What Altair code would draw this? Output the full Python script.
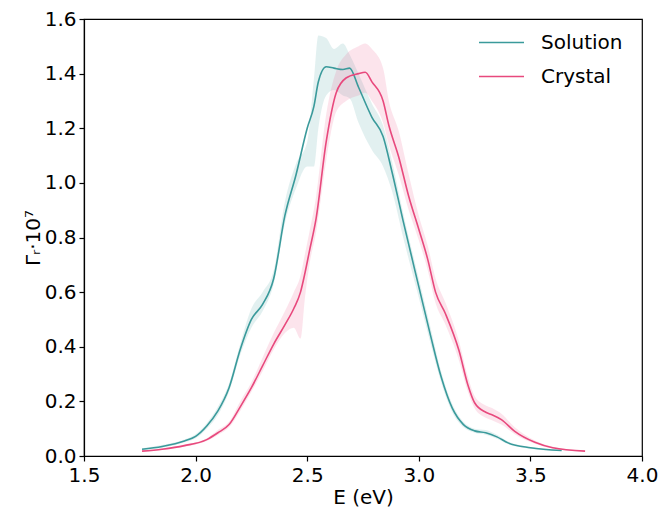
import altair as alt
import pandas as pd

# Solution (teal)
sol_E = [1.76, 1.85, 1.95, 2.00, 2.05, 2.10, 2.15, 2.20, 2.25, 2.30, 2.35, 2.40, 2.45, 2.50, 2.53,
         2.55, 2.585, 2.62, 2.66, 2.69, 2.73, 2.79, 2.84, 2.88, 2.93, 3.00, 3.05, 3.10, 3.15,
         3.20, 3.25, 3.30, 3.35, 3.40, 3.50, 3.64]
sol_mean = [0.025, 0.035, 0.055, 0.072, 0.11, 0.165, 0.25, 0.39, 0.50, 0.555, 0.65, 0.88, 1.03, 1.20, 1.28,
            1.37, 1.425, 1.42, 1.415, 1.42, 1.35, 1.24, 1.17, 1.04, 0.86, 0.62, 0.45, 0.29, 0.175,
            0.115, 0.092, 0.085, 0.07, 0.048, 0.03, 0.02]
sol_lo = [0.022, 0.03, 0.05, 0.065, 0.10, 0.15, 0.235, 0.37, 0.47, 0.53, 0.63, 0.85, 0.98, 1.06, 1.06,
          1.20, 1.32, 1.34, 1.32, 1.31, 1.22, 1.12, 1.06, 0.97, 0.80, 0.58, 0.42, 0.27, 0.16,
          0.105, 0.085, 0.078, 0.063, 0.043, 0.027, 0.018]
sol_hi = [0.028, 0.04, 0.06, 0.08, 0.12, 0.18, 0.265, 0.41, 0.54, 0.60, 0.68, 0.93, 1.07, 1.15, 1.38,
          1.54, 1.53, 1.49, 1.51, 1.47, 1.40, 1.29, 1.21, 1.08, 0.89, 0.65, 0.48, 0.31, 0.19,
          0.125, 0.10, 0.095, 0.078, 0.053, 0.033, 0.022]

# Crystal (pink)
cry_E = [1.76, 1.85, 1.95, 2.05, 2.10, 2.15, 2.20, 2.25, 2.30, 2.35, 2.40, 2.44, 2.47, 2.49, 2.51,
         2.54, 2.585, 2.63, 2.674, 2.73, 2.76, 2.79, 2.84, 2.866, 2.91, 2.955, 3.00, 3.04, 3.075,
         3.12, 3.18, 3.22, 3.25, 3.30, 3.33, 3.37, 3.43, 3.52, 3.60, 3.745]
cry_mean = [0.018, 0.025, 0.038, 0.06, 0.085, 0.115, 0.18, 0.25, 0.33, 0.41, 0.48, 0.54, 0.60, 0.67, 0.75,
            0.87, 1.15, 1.33, 1.384, 1.40, 1.405, 1.37, 1.30, 1.21, 1.095, 0.95, 0.83, 0.72, 0.60,
            0.52, 0.386, 0.26, 0.195, 0.16, 0.15, 0.133, 0.09, 0.05, 0.03, 0.018]
cry_lo = [0.016, 0.022, 0.034, 0.055, 0.077, 0.105, 0.165, 0.235, 0.31, 0.39, 0.45, 0.47, 0.43, 0.58, 0.70,
          0.82, 1.08, 1.26, 1.30, 1.32, 1.33, 1.30, 1.22, 1.14, 1.03, 0.90, 0.79, 0.68, 0.56,
          0.48, 0.35, 0.235, 0.175, 0.14, 0.13, 0.115, 0.08, 0.045, 0.027, 0.016]
cry_hi = [0.02, 0.028, 0.042, 0.065, 0.095, 0.125, 0.20, 0.27, 0.36, 0.45, 0.53, 0.60, 0.66, 0.74, 0.82,
          0.95, 1.25, 1.41, 1.47, 1.50, 1.51, 1.49, 1.42, 1.30, 1.19, 1.03, 0.88, 0.77, 0.65,
          0.56, 0.42, 0.29, 0.22, 0.185, 0.175, 0.155, 0.105, 0.057, 0.034, 0.02]

series = ["Solution", "Crystal"]
colors = ["#3a9a9b", "#e8497d"]

rows = []
for name, E, m, lo, hi in [("Solution", sol_E, sol_mean, sol_lo, sol_hi),
                           ("Crystal", cry_E, cry_mean, cry_lo, cry_hi)]:
    for e, a, b, c in zip(E, m, lo, hi):
        rows.append({"series": name, "E": e, "mean": a, "lo": b, "hi": c})
df = pd.DataFrame(rows)

font = "DejaVu Sans"
xs = alt.X("E:Q", scale=alt.Scale(domain=[1.5, 4.0], nice=False),
           axis=alt.Axis(title="E (eV)", values=[1.5, 2.0, 2.5, 3.0, 3.5, 4.0], format=".1f",
                         labelFlush=False, labelOverlap=False))
ys_axis = alt.Axis(title="Γᵣ·10⁷", values=[0, 0.2, 0.4, 0.6, 0.8, 1.0, 1.2, 1.4, 1.6], format=".1f",
                   labelFlush=False, labelOverlap=False)
color_scale = alt.Scale(domain=series, range=colors)

band = alt.Chart(df).mark_area(opacity=0.15, interpolate="monotone").encode(
    x=xs,
    y=alt.Y("lo:Q", scale=alt.Scale(domain=[0, 1.6], nice=False), axis=ys_axis),
    y2="hi:Q",
    color=alt.Color("series:N", scale=color_scale, legend=None),
    detail="series:N",
)

line = alt.Chart(df).mark_line(strokeWidth=1.6, interpolate="monotone").encode(
    x=xs,
    y=alt.Y("mean:Q", scale=alt.Scale(domain=[0, 1.6], nice=False), axis=ys_axis),
    color=alt.Color("series:N", scale=color_scale, sort=series,
                    legend=alt.Legend(title=None, orient="none", legendX=394, legendY=0,
                                      symbolType="stroke", symbolSize=2025, symbolStrokeWidth=1.6,
                                      labelFontSize=20, labelFont=font, labelOffset=16,
                                      rowPadding=-2, labelColor="black")),
)

chart = alt.layer(band, line).resolve_scale(color="independent").properties(
    width=558, height=437,
    padding={"left": 76, "top": 11, "right": 16, "bottom": 55},
    autosize=alt.AutoSizeParams(type="none"),
).configure_view(
    stroke="black", strokeWidth=1.2
).configure_axis(
    grid=False, domainColor="black", domainWidth=1.2, tickColor="black", tickWidth=1.2, tickSize=5,
    labelFont=font, labelFontSize=20, labelColor="black", labelPadding=3,
    titleFont=font, titleFontSize=20, titleColor="black", titleFontWeight="normal",
).configure_axisY(titlePadding=1).configure_axisX(titlePadding=2, labelPadding=4)

chart.save("out.html", embed_options={"renderer": "svg", "actions": False})
